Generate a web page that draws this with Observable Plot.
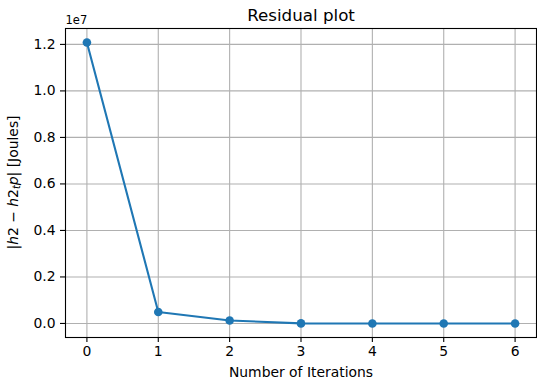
<!DOCTYPE html>
<html>
<head>
<meta charset="utf-8">
<script src="https://cdn.jsdelivr.net/npm/d3@7"></script>
<script src="https://cdn.jsdelivr.net/npm/@observablehq/plot@0.6"></script>
<style>
  html, body { margin: 0; padding: 0; background: #fff; }
  svg { display: block; }
</style>
</head>
<body>
<div id="chart"></div>
<script>
// Data
const iterations = [0, 1, 2, 3, 4, 5, 6];
const residuals = [12080000, 495000, 128000, 3000, 500, 100, 20];
const yTicks = [0, 2000000, 4000000, 6000000, 8000000, 10000000, 12000000];
const title = "Residual plot";
const xLabel = "Number of Iterations";
const offsetLabel = "1e7";

const data = iterations.map((it, i) => ({it, r: residuals[i]}));

const font = "DejaVu Sans, sans-serif";
const blue = "#1f77b4";
const gridColor = "#b0b0b0";

const yMax = d3.max(residuals), yMin = 0;
const yPad = (yMax - yMin) * 0.05;
const xPad = (d3.max(iterations) - d3.min(iterations)) * 0.05;

const chart = Plot.plot({
  width: 537,
  height: 385,
  marginLeft: 65,
  marginRight: 1,
  marginTop: 28,
  marginBottom: 48,
  style: {fontFamily: font, fontSize: "13.9px", color: "#000", background: "#fff"},
  x: {domain: [d3.min(iterations) - xPad, d3.max(iterations) + xPad], label: null},
  y: {domain: [yMin - yPad, yMax + yPad], label: null},
  marks: [
    Plot.gridX(iterations, {stroke: gridColor, strokeOpacity: 1, strokeWidth: 1.1}),
    Plot.gridY(yTicks, {stroke: gridColor, strokeOpacity: 1, strokeWidth: 1.1}),
    Plot.line(data, {x: "it", y: "r", stroke: blue, strokeWidth: 2.1}),
    Plot.dot(data, {x: "it", y: "r", r: 4.3, fill: blue, stroke: null}),
    Plot.frame({stroke: "#000", strokeWidth: 1.1}),
    Plot.axisX(iterations, {tickSize: 5, tickPadding: 4, strokeWidth: 1.1, label: null, tickFormat: d => String(d)}),
    Plot.axisY(yTicks, {tickSize: 5, tickPadding: 5, strokeWidth: 1.1, label: null, tickFormat: d => (d / 1e7).toFixed(1)}),
    Plot.text([title], {frameAnchor: "top", dy: -8, lineAnchor: "bottom", fontSize: 16.7, fill: "#000"}),
    Plot.text([offsetLabel], {frameAnchor: "top-left", dy: -5, lineAnchor: "bottom", textAnchor: "start", fontSize: 11.5, fill: "#000"}),
    Plot.text([xLabel], {frameAnchor: "bottom", dy: 39, lineAnchor: "bottom", fill: "#000"})
  ]
});

document.getElementById("chart").appendChild(chart);

// y-axis label with math-style italics and subscript
const svg = d3.select(chart);
const cy = (28 + (385 - 48)) / 2;
const yl = svg.append("text")
  .attr("transform", `translate(18,${cy}) rotate(-90)`)
  .attr("text-anchor", "middle")
  .attr("font-family", font)
  .attr("font-size", 13.9)
  .attr("fill", "#000");
yl.append("tspan").text("|");
yl.append("tspan").attr("font-style", "italic").text("h");
yl.append("tspan").text("2 \u2212 ");
yl.append("tspan").attr("font-style", "italic").text("h");
yl.append("tspan").text("2");
yl.append("tspan").attr("font-style", "italic").attr("font-size", 9.7).attr("dy", 2).text("t");
yl.append("tspan").attr("font-style", "italic").attr("dy", -2).text("p");
yl.append("tspan").text("| [Joules]");
</script>
</body>
</html>
